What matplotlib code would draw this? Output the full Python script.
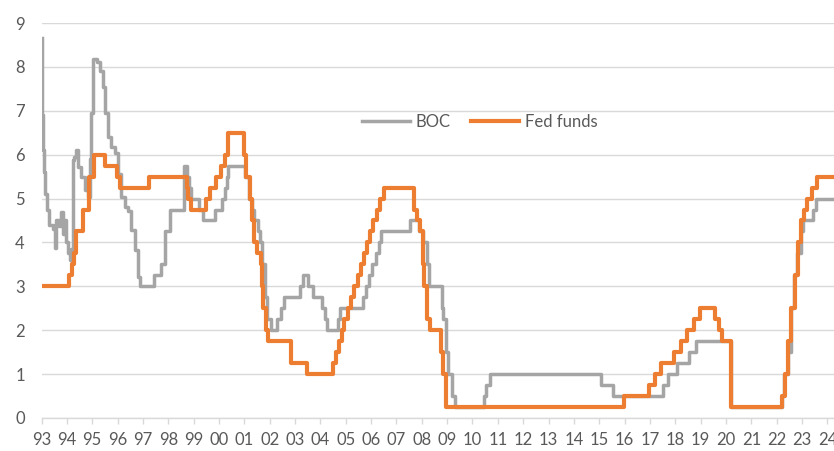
#!/usr/bin/env python3
# -*- coding: utf-8 -*-
"""
Policy rates: Bank of Canada overnight rate vs US Fed funds target
"""

import matplotlib
matplotlib.use('Agg')
import matplotlib.pyplot as plt

OUTPUT_FILE = 'out.png'

# Colours (Excel default palette)
BOC_COLOR = '#A5A5A5'
FED_COLOR = '#ED7D31'
GRID_COLOR = '#D9D9D9'
TEXT_COLOR = '#595959'

# Bank of Canada - change points (decimal year, rate %)
BOC_DATES = [
    1993.00, 1993.02, 1993.05, 1993.09, 1993.13, 1993.20, 1993.30, 1993.45,
    1993.52, 1993.58, 1993.68, 1993.78, 1993.85, 1993.91, 1993.98, 1994.05,
    1994.11, 1994.18, 1994.24, 1994.30, 1994.37, 1994.45, 1994.57, 1994.70,
    1994.83, 1994.90, 1994.97, 1995.03, 1995.20, 1995.32, 1995.42, 1995.49,
    1995.62, 1995.75, 1995.88, 1996.00, 1996.12, 1996.28, 1996.41, 1996.54,
    1996.68, 1996.80, 1996.87, 1997.42, 1997.72, 1997.88, 1998.05, 1998.62,
    1998.72, 1998.80, 1998.88, 1999.20, 1999.35, 1999.85, 2000.10, 2000.22,
    2000.30, 2000.37, 2001.03, 2001.20, 2001.30, 2001.40, 2001.55, 2001.62,
    2001.70, 2001.80, 2001.90, 2002.05, 2002.30, 2002.45, 2002.55, 2003.20,
    2003.30, 2003.50, 2003.70, 2004.05, 2004.17, 2004.27, 2004.70, 2004.78,
    2005.68, 2005.80, 2005.93, 2006.05, 2006.18, 2006.30, 2006.40, 2007.53,
    2007.90, 2008.05, 2008.20, 2008.30, 2008.78, 2008.85, 2008.95, 2009.05,
    2009.20, 2009.30, 2010.45, 2010.55, 2010.70, 2015.05, 2015.55, 2017.53,
    2017.70, 2018.05, 2018.55, 2018.80, 2020.20, 2022.20, 2022.30, 2022.45,
    2022.55, 2022.70, 2022.80, 2022.95, 2023.05, 2023.45, 2023.55, 2024.30,
]
BOC_RATES = [
    8.65, 6.90, 6.10, 5.60, 5.10, 4.75, 4.40, 4.30,
    3.87, 4.50, 4.37, 4.70, 4.20, 4.50, 4.00, 3.75,
    3.60, 3.85, 5.88, 5.95, 6.10, 5.72, 5.50, 5.20,
    5.04, 5.90, 6.94, 8.19, 8.12, 7.90, 7.55, 6.94,
    6.41, 6.18, 6.03, 5.57, 5.04, 4.80, 4.72, 4.28,
    3.83, 3.22, 3.00, 3.25, 3.50, 4.25, 4.75, 5.75,
    5.50, 5.25, 5.00, 4.75, 4.50, 4.75, 5.00, 5.25,
    5.50, 5.75, 5.50, 5.00, 4.75, 4.50, 4.25, 4.00,
    3.50, 2.75, 2.25, 2.00, 2.25, 2.50, 2.75, 3.00,
    3.25, 3.00, 2.75, 2.50, 2.25, 2.00, 2.25, 2.50,
    2.75, 3.00, 3.25, 3.50, 3.75, 4.00, 4.25, 4.50,
    4.25, 4.00, 3.50, 3.00, 2.50, 2.25, 1.50, 1.00,
    0.50, 0.25, 0.50, 0.75, 1.00, 0.75, 0.50, 0.75,
    1.00, 1.25, 1.50, 1.75, 0.25, 0.50, 1.00, 1.50,
    2.50, 3.25, 3.75, 4.25, 4.50, 4.75, 5.00, 5.00,
]

# Fed funds target (upper bound) - change points
FED_DATES = [
    1993.00, 1994.09, 1994.22, 1994.30, 1994.37, 1994.62, 1994.87, 1995.08,
    1995.51, 1995.96, 1996.08, 1997.23, 1998.74, 1998.79, 1998.88, 1999.49,
    1999.65, 1999.88, 2000.09, 2000.22, 2000.37, 2001.00, 2001.08, 2001.21,
    2001.30, 2001.37, 2001.49, 2001.64, 2001.71, 2001.75, 2001.85, 2001.94,
    2002.85, 2003.48, 2004.49, 2004.61, 2004.72, 2004.86, 2004.95, 2005.09,
    2005.22, 2005.34, 2005.49, 2005.60, 2005.72, 2005.83, 2005.95, 2006.08,
    2006.24, 2006.36, 2006.49, 2007.71, 2007.83, 2007.94, 2008.05, 2008.08,
    2008.21, 2008.33, 2008.77, 2008.82, 2008.96, 2015.96, 2016.95, 2017.20,
    2017.45, 2017.95, 2018.22, 2018.46, 2018.72, 2018.96, 2019.58, 2019.72,
    2019.83, 2020.20, 2022.20, 2022.34, 2022.46, 2022.57, 2022.72, 2022.84,
    2022.96, 2023.09, 2023.21, 2023.38, 2023.57, 2024.30,
]
FED_RATES = [
    3.00, 3.25, 3.50, 3.75, 4.25, 4.75, 5.50, 6.00,
    5.75, 5.50, 5.25, 5.50, 5.25, 5.00, 4.75, 5.00,
    5.25, 5.50, 5.75, 6.00, 6.50, 6.00, 5.50, 5.00,
    4.50, 4.00, 3.75, 3.50, 3.00, 2.50, 2.00, 1.75,
    1.25, 1.00, 1.25, 1.50, 1.75, 2.00, 2.25, 2.50,
    2.75, 3.00, 3.25, 3.50, 3.75, 4.00, 4.25, 4.50,
    4.75, 5.00, 5.25, 4.75, 4.50, 4.25, 3.50, 3.00,
    2.25, 2.00, 1.50, 1.00, 0.25, 0.50, 0.75, 1.00,
    1.25, 1.50, 1.75, 2.00, 2.25, 2.50, 2.25, 2.00,
    1.75, 0.25, 0.50, 1.00, 1.75, 2.50, 3.25, 4.00,
    4.50, 4.75, 5.00, 5.25, 5.50, 5.50,
]

# Axis ticks
YEAR_TICKS = list(range(1993, 2025))
YEAR_LABELS = ['93', '94', '95', '96', '97', '98', '99', '00', '01', '02', '03',
               '04', '05', '06', '07', '08', '09', '10', '11', '12', '13', '14',
               '15', '16', '17', '18', '19', '20', '21', '22', '23', '24']
Y_TICKS = [0, 1, 2, 3, 4, 5, 6, 7, 8, 9]


def draw_chart():
    """Draw the BOC vs Fed funds step chart"""
    plt.rcParams['font.family'] = ['Lato', 'DejaVu Sans']

    fig = plt.figure(figsize=(8.34, 4.51), dpi=100)
    ax = fig.add_axes([0.0498, 0.0732, 0.9502, 0.8758])

    ax.plot(BOC_DATES, BOC_RATES, drawstyle='steps-post', color=BOC_COLOR,
            linewidth=2.5, label='BOC', zorder=3)
    ax.plot(FED_DATES, FED_RATES, drawstyle='steps-post', color=FED_COLOR,
            linewidth=3.0, label='Fed funds', zorder=4)

    ax.set_xlim(1993, 2024.26)
    ax.set_ylim(0, 9)

    ax.set_xticks(YEAR_TICKS)
    ax.set_xticklabels(YEAR_LABELS)
    ax.set_yticks(Y_TICKS)
    ax.set_yticklabels([str(v) for v in Y_TICKS])

    # Excel-like styling
    ax.grid(axis='y', color=GRID_COLOR, linewidth=1.0)
    ax.set_axisbelow(True)
    for side in ['left', 'right', 'top']:
        ax.spines[side].set_visible(False)
    ax.spines['bottom'].set_color(GRID_COLOR)
    ax.spines['bottom'].set_linewidth(1.0)
    ax.tick_params(axis='x', colors=GRID_COLOR, labelcolor=TEXT_COLOR,
                   length=4, width=1.0, direction='out', pad=6, labelsize=12)
    ax.tick_params(axis='y', length=0, labelcolor=TEXT_COLOR, pad=12,
                   labelsize=12)

    leg = ax.legend(loc='center', bbox_to_anchor=(0.553, 0.749), ncol=2,
                    frameon=False, fontsize=12, handlelength=2.9,
                    handletextpad=0.35, columnspacing=1.2)
    for txt in leg.get_texts():
        txt.set_color(TEXT_COLOR)

    fig.savefig(OUTPUT_FILE, dpi=100)


def main():
    draw_chart()


if __name__ == "__main__":
    main()
